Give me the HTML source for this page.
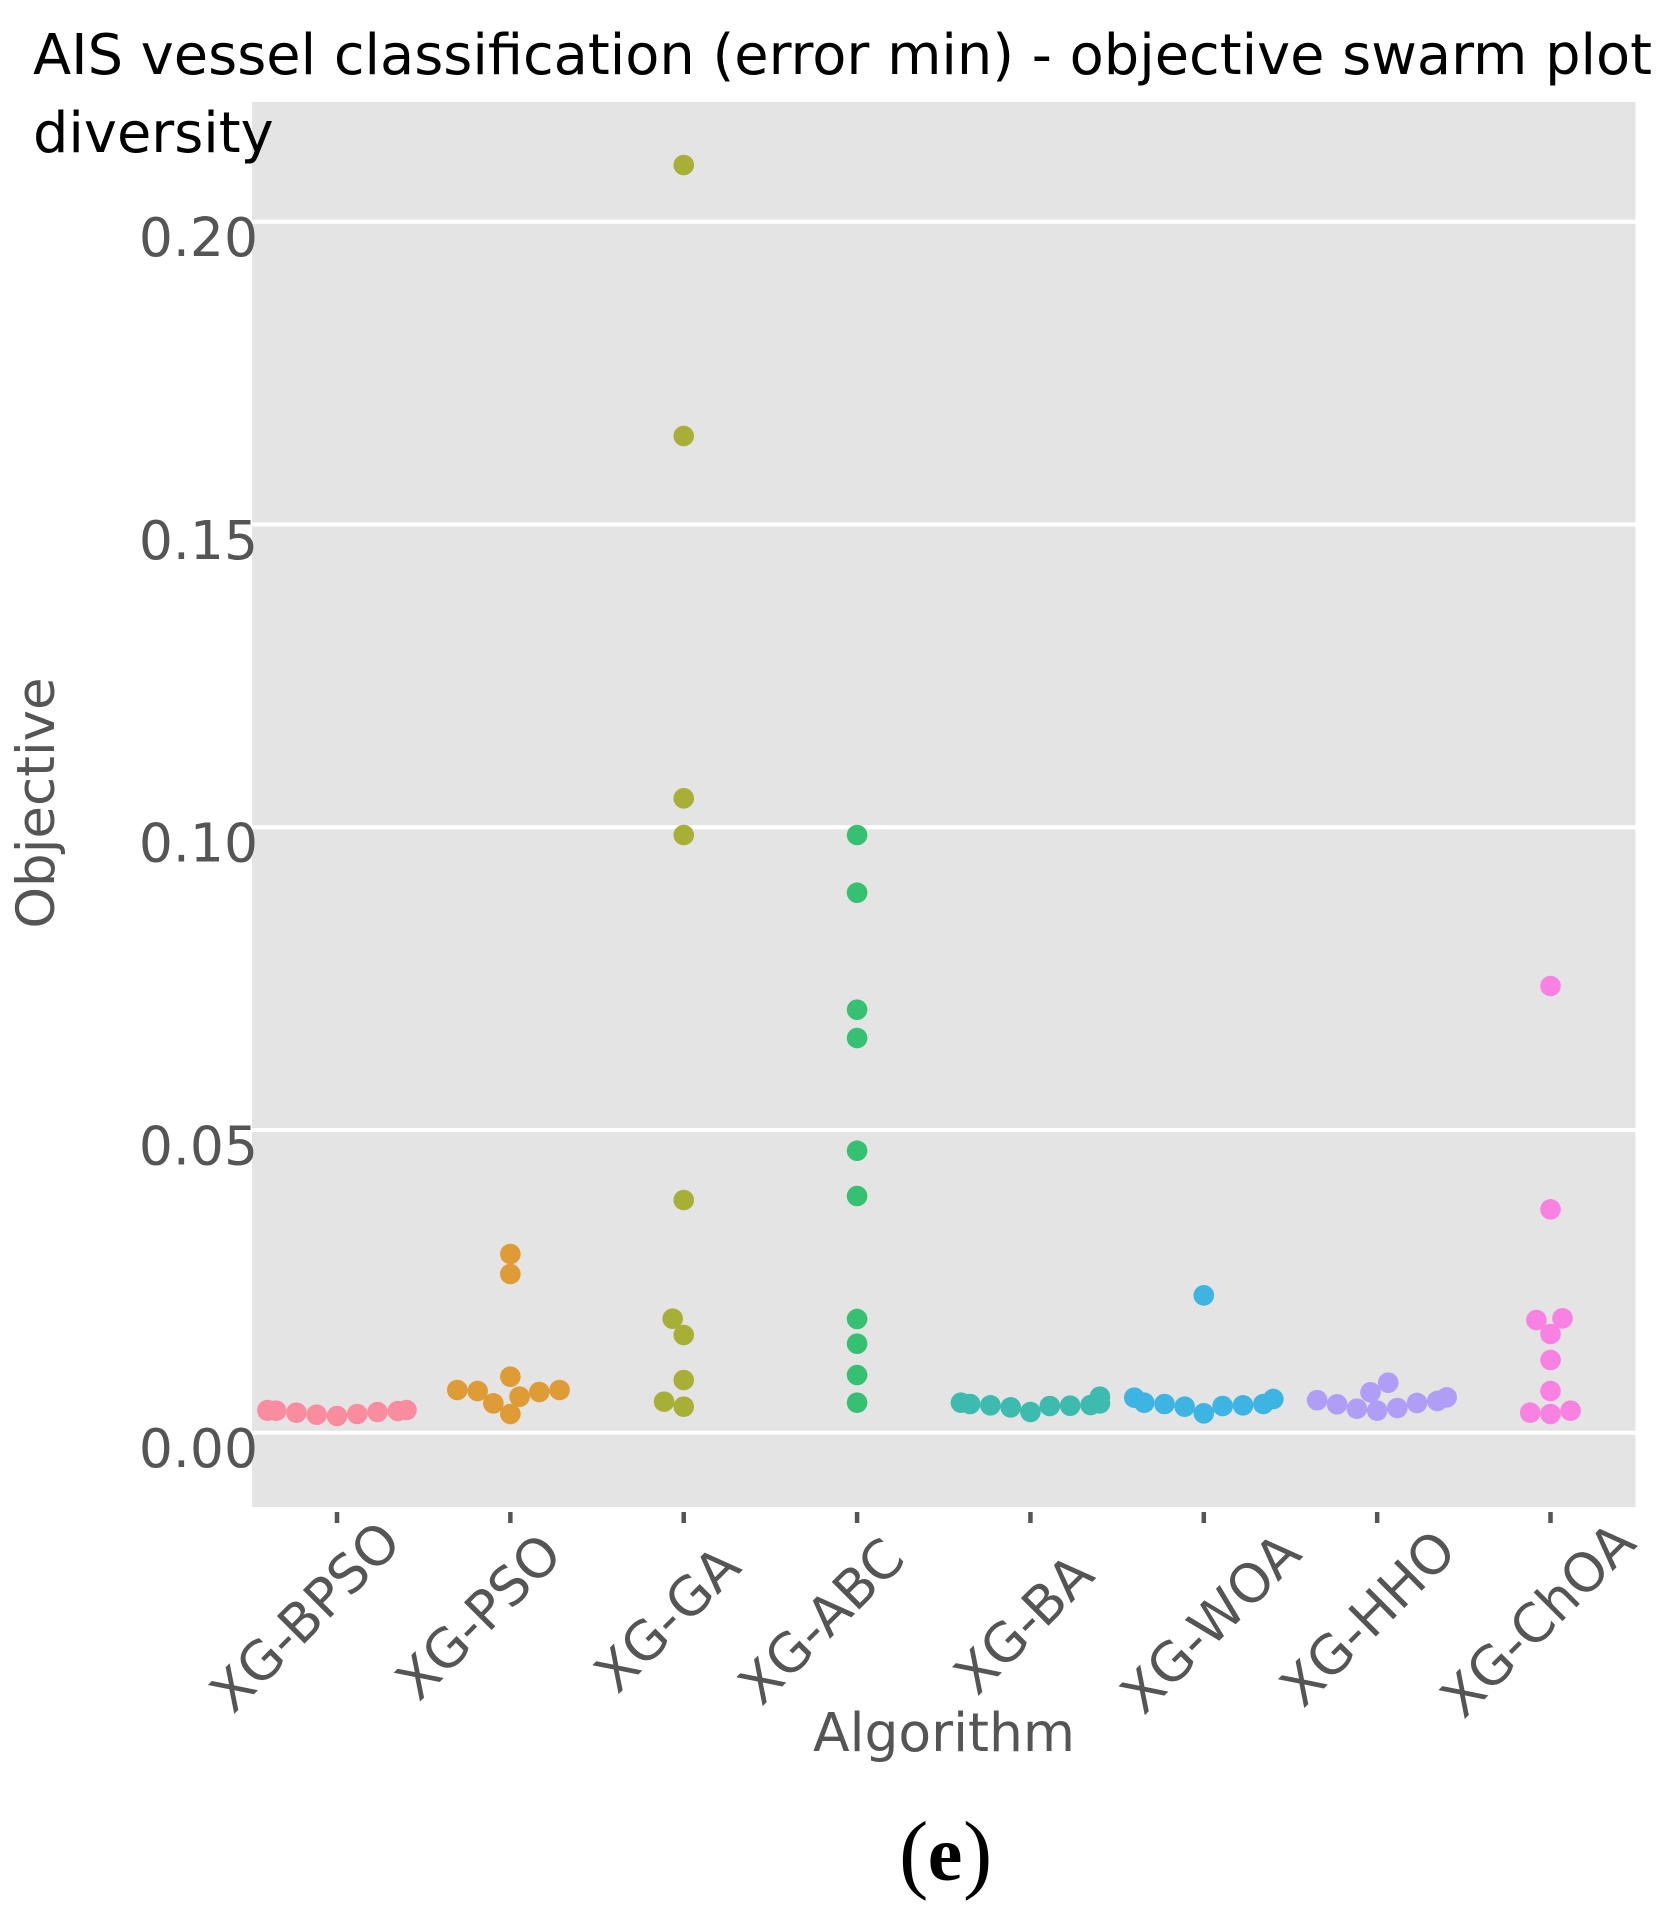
<!DOCTYPE html>
<html lang="en">
<head>
<meta charset="utf-8">
<title>AIS vessel classification swarm plot</title>
<style>
html,body{margin:0;padding:0;background:#fff;}
svg{display:block;}
text{font-family:"DejaVu Sans","Liberation Sans",sans-serif;}
</style>
</head>
<body>
<svg id="chart" xmlns="http://www.w3.org/2000/svg" width="1677" height="1920" viewBox="0 0 1677 1920">
  <rect x="0" y="0" width="1677" height="1920" fill="#ffffff"></rect>
  <rect x="252" y="102" width="1383.5" height="1405" fill="#e4e4e4"></rect>
  <g id="grid"></g>
  <g id="ticks"></g>
  <g id="points"></g>
  <g id="ylabels"></g>
  <g id="xlabels"></g>
  <text x="33" y="74" font-size="55.8" fill="#000">AIS vessel classification (error min) - objective swarm plot</text>
  <text x="33" y="152" font-size="55.8" fill="#000">diversity</text>
  <text transform="translate(54,803) rotate(-90)" text-anchor="middle" font-size="53" fill="#555555">Objective</text>
  <text x="944" y="1751" text-anchor="middle" font-size="53.5" fill="#555555">Algorithm</text>
  <text fill="#000" style="font-family:'Liberation Serif',serif"><tspan x="899" y="1882" font-size="88">(</tspan><tspan x="945" y="1880" font-size="78" font-weight="bold" text-anchor="middle">e</tspan><tspan x="963" y="1882" font-size="88">)</tspan></text>
</svg>
<script>
const categories = ["XG-BPSO","XG-PSO","XG-GA","XG-ABC","XG-BA","XG-WOA","XG-HHO","XG-ChOA"];
const yTickValues = [0, 0.05, 0.10, 0.15, 0.20];
const yTickLabels = ["0.00","0.05","0.10","0.15","0.20"];
const bpsoValues = [0.00276,0.00298,0.00309,0.00331,0.00342,0.00358,0.00364,0.00364,0.00375,0.00375];
const psoValues = [0.00309,0.00485,0.00595,0.00672,0.00689,0.00705,0.00705,0.00925,0.02621,0.02951];
const gaValues = [0.0043,0.00513,0.0087,0.01614,0.01883,0.03843,0.09871,0.10477,0.16461,0.20936];
const abcValues = [0.00496,0.00953,0.0147,0.01878,0.03909,0.04657,0.06518,0.06986,0.08918,0.09871];
const baValues = [0.00342,0.00419,0.00441,0.00446,0.00452,0.00457,0.00474,0.00485,0.00496,0.00595];
const woaValues = [0.0032,0.0043,0.00441,0.00452,0.00474,0.00474,0.00496,0.00557,0.00579,0.02269];
const hhoValues = [0.00364,0.00397,0.00408,0.0047,0.00491,0.00524,0.00537,0.00584,0.00667,0.00826];
const choaValues = [0.00309,0.00331,0.00364,0.00689,0.01201,0.0163,0.01861,0.01889,0.03689,0.07377];
const seriesValues = [bpsoValues,psoValues,gaValues,abcValues,baValues,woaValues,hhoValues,choaValues];
const seriesColors = ["#FA8CA0","#DF9B36","#A8AF37","#36C172","#3DBBAE","#3DB4E1","#B09DF5","#F981E2"];

const SVG_NS = "http://www.w3.org/2000/svg";
function xScale(i){ return 337 + 173.36 * i; }
function yScale(v){ return 1432.7 - 6055 * v; }

function make(tag, attrs, parent){
  const el = document.createElementNS(SVG_NS, tag);
  for (const k in attrs) el.setAttribute(k, attrs[k]);
  parent.appendChild(el);
  return el;
}

/* beeswarm placement: stack points from the bottom, nudging sideways to avoid overlap */
function swarm(pixelYs, mid, r, halfWidth){
  const order = pixelYs.map((y, i) => [y, i]).sort((a, b) => b[0] - a[0]);
  const placed = [];
  const result = new Array(pixelYs.length);
  const offset = c => Math.round(Math.abs(c - mid) * 1e6);
  order.forEach(([y, idx]) => {
    const neighbors = placed.filter(p => Math.abs(p.y - y) <= 2 * r).reverse();
    const cands = [mid];
    neighbors.forEach(n => {
      const dy = y - n.y;
      const dx = Math.sqrt(Math.max(4 * r * r - dy * dy, 0)) * 1.05;
      cands.push(n.x - dx, n.x + dx);
    });
    /* nearest to the midline wins; exact ties go to the left side */
    const sorted = cands.slice().sort((a, b) => (offset(a) - offset(b)) || (a - b));
    let x = mid;
    for (const c of sorted) {
      const ok = neighbors.every(n => (c - n.x) * (c - n.x) + (y - n.y) * (y - n.y) >= 4 * r * r - 1e-6);
      if (ok) { x = c; break; }
    }
    placed.push({x: x, y: y});
    result[idx] = Math.max(mid - halfWidth, Math.min(mid + halfWidth, x));
  });
  return result;
}

function draw(){
  const grid = document.getElementById("grid");
  const ticks = document.getElementById("ticks");
  const points = document.getElementById("points");
  const ylabels = document.getElementById("ylabels");
  const xlabels = document.getElementById("xlabels");

  /* hand-tuned label placement relative to each tick (layout only) */
  const labelNudgeX = [-32.5,-32.5,-17.2,-36.5,-7.4,6.0,-10,-13.5];
  const labelCenterY = [1616,1616,1618.5,1620.5,1623.5,1622.5,1617.5,1619];

  yTickValues.forEach((v, i) => {
    const line = make("line", {x1:252, x2:1635.5, y1:yScale(v), y2:yScale(v), stroke:"#ffffff", "stroke-width":4}, grid);
    
    
    const t = make("text", {x:258, y:yScale(v) + 34.5, "text-anchor":"end", "font-size":53.5, fill:"#555555"}, ylabels);
    t.textContent = yTickLabels[i];
    
    
  });

  categories.forEach((cat, i) => {
    const cx = xScale(i);
    const tick = make("line", {x1:cx, x2:cx, y1:1512, y2:1523, stroke:"#555555", "stroke-width":4.5}, ticks);
    
    

    const lab = make("text", {transform:"translate(" + (cx + labelNudgeX[i]) + "," + labelCenterY[i] + ") rotate(-45)", y:"0.365em", "text-anchor":"middle", "font-size":53.6, fill:"#555555"}, xlabels);
    lab.textContent = cat;
    
    

    const vals = seriesValues[i];
    const ys = vals.map(yScale);
    const xs = swarm(ys, cx, 9.7, 69.5);
    vals.forEach((v, j) => {
      const c = make("circle", {cx:xs[j], cy:ys[j], r:10.3, fill:seriesColors[i]}, points);
      
      
    });
  });
}
draw();
</script>
</body>
</html>
